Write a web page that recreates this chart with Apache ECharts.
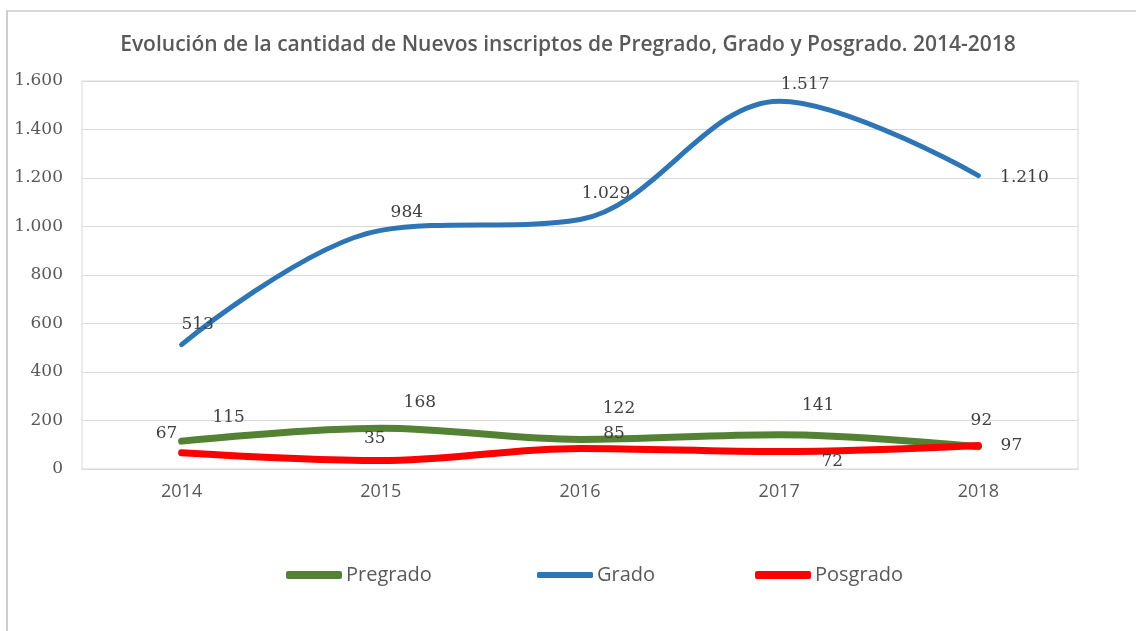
<!DOCTYPE html>
<html>
<head>
<meta charset="utf-8">
<script src="https://cdn.jsdelivr.net/npm/echarts@6/dist/echarts.min.js"></script>
<style>
  html, body { margin: 0; padding: 0; background: #fff; }
  #chart { width: 1136px; height: 631px; }
</style>
</head>
<body>
<div id="chart"></div>
<script>
// datos
const years = ['2014', '2015', '2016', '2017', '2018']
const pregrado = [115, 168, 122, 141, 92]
const grado = [513, 984, 1029, 1517, 1210]
const posgrado = [67, 35, 85, 72, 97]
const yTicks = [0, 200, 400, 600, 800, 1000, 1200, 1400, 1600]

// desplazamiento de cada etiqueta respecto al punto
const offPregrado = [[47, -24], [39, -26], [39, -31], [39, -29], [3, -26]]
const offGrado = [[16, -20], [26, -18], [26, -26], [26, -17], [46, 2]]
const offPosgrado = [[-15, -19], [-6, -22], [34, -15], [53, 10], [33, 0]]

const serif = 'DejaVu Serif'
const sans = 'Open Sans'

function miles(v) {
	return String(v).replace(/\B(?=(\d{3})+(?!\d))/g, '.')
}

function withLabels(values, offsets) {
	return values.map(function (v, i) {
		return { value: v, label: { offset: offsets[i] } }
	})
}

function lineSeries(name, values, offsets, color, width) {
	return {
		name: name,
		type: 'line',
		smooth: 0.35,
		symbol: 'circle',
		symbolSize: 1,
		itemStyle: { color: color },
		lineStyle: { color: color, width: width, cap: 'round', join: 'round' },
		label: {
			show: true,
			position: 'inside',
			fontFamily: serif,
			fontSize: 17,
			color: '#404040',
			formatter: function (p) { return miles(p.value) }
		},
		emphasis: { disabled: true },
		data: withLabels(values, offsets)
	}
}

function legendItem(name, left, height) {
	return {
		data: [name],
		left: left,
		top: 564,
		padding: 0,
		icon: 'roundRect',
		itemWidth: 56,
		itemHeight: height,
		itemGap: 0,
		selectedMode: false,
		textStyle: { fontFamily: sans, fontSize: 20, color: '#595959', lineHeight: 22, padding: [0, 0, 0, -1] }
	}
}

const chart = echarts.init(document.getElementById('chart'), null, { renderer: 'canvas' })

const option = {
	animation: false,
	backgroundColor: '#fff',
	title: {
		text: 'Evolución de la cantidad de Nuevos inscriptos de Pregrado, Grado y Posgrado. 2014-2018',
		left: 'center',
		top: 35,
		padding: 0,
		textStyle: { fontFamily: sans, fontSize: 21, fontWeight: 600, color: '#595959' }
	},
	legend: [
		legendItem('Pregrado', 286, 8),
		legendItem('Grado', 537, 6),
		legendItem('Posgrado', 755, 8)
	],
	grid: {
		left: 82,
		right: 58,
		top: 81,
		bottom: 162,
		show: true,
		borderColor: '#d9d9d9',
		borderWidth: 1,
		outerBoundsMode: 'none'
	},
	xAxis: {
		type: 'category',
		data: years,
		boundaryGap: true,
		axisLine: { lineStyle: { color: '#d9d9d9' } },
		axisTick: { show: false },
		axisLabel: { fontFamily: sans, fontSize: 18, color: '#595959', margin: 14 }
	},
	yAxis: {
		type: 'value',
		min: yTicks[0],
		max: yTicks[yTicks.length - 1],
		interval: yTicks[1] - yTicks[0],
		axisLine: { show: false },
		axisTick: { show: false },
		splitLine: { lineStyle: { color: '#d9d9d9', width: 1 } },
		axisLabel: {
			fontFamily: serif,
			fontSize: 17,
			color: '#595959',
			margin: 19,
			formatter: miles
		}
	},
	graphic: [
		{ type: 'line', shape: { x1: 6, y1: 11, x2: 1136, y2: 11 }, style: { stroke: '#d9d9d9', lineWidth: 2 } },
		{ type: 'line', shape: { x1: 7, y1: 10, x2: 7, y2: 631 }, style: { stroke: '#cfcfcf', lineWidth: 2 } }
	],
	series: [
		lineSeries('Pregrado', pregrado, offPregrado, '#548235', 7),
		lineSeries('Grado', grado, offGrado, '#2e75b6', 5),
		lineSeries('Posgrado', posgrado, offPosgrado, '#ff0000', 7)
	]
}

chart.setOption(option)
</script>
</body>
</html>
